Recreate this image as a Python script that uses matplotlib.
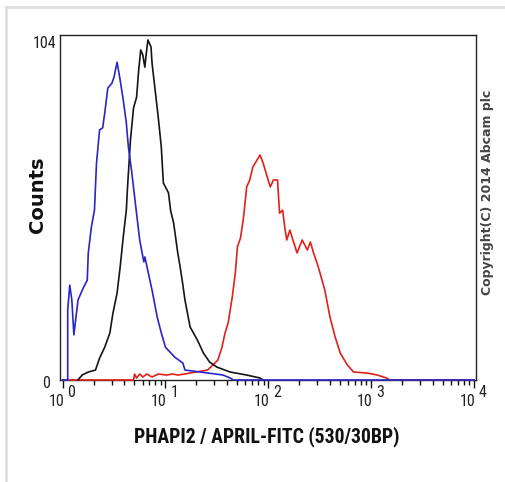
import numpy as np
import matplotlib
matplotlib.use("Agg")
import matplotlib.pyplot as plt
from matplotlib import font_manager
from matplotlib.lines import Line2D

# Histogramas (posicion en decadas log10, cuentas)
blue_log = [0.0, 0.05, 0.05, 0.07, 0.09, 0.11, 0.15, 0.20, 0.24, 0.25, 0.28, 0.31,
            0.33, 0.36, 0.39, 0.41, 0.44, 0.48, 0.50, 0.53, 0.56, 0.59, 0.62, 0.64,
            0.67, 0.71, 0.75, 0.79, 0.80, 0.87, 0.92, 0.96, 1.00, 1.09, 1.17, 1.19,
            1.34, 1.56, 1.63, 1.66, 4.0]
blue_cnt = [0, 0, 21.1, 28.6, 24.1, 13.6, 24.1, 27.7, 30.1, 38.3, 46.1, 51.2,
            65.4, 75.4, 76.0, 80.5, 88.0, 89.5, 91.3, 95.8, 90.4, 84.4, 77.5, 70.2,
            63.3, 52.7, 42.2, 35.6, 37.1, 27.1, 19.0, 14.2, 9.9, 6.9, 5.1, 3.0,
            2.4, 1.5, 0.6, 0, 0]

black_log = [0.15, 0.19, 0.25, 0.32, 0.36, 0.41, 0.46, 0.49, 0.53, 0.56, 0.59, 0.62,
             0.63, 0.66, 0.69, 0.72, 0.74, 0.76, 0.78, 0.80, 0.81, 0.83, 0.86, 0.87,
             0.90, 0.93, 0.96, 0.98, 1.03, 1.05, 1.08, 1.12, 1.14, 1.17, 1.19, 1.24,
             1.31, 1.37, 1.43, 1.50, 1.63, 1.79, 1.92, 1.95]
black_cnt = [0, 1.5, 2.4, 3.0, 6.6, 9.9, 14.2, 20.2, 26.2, 34.1, 43.1, 51.2,
             57.3, 72.3, 82.0, 85.3, 93.4, 99.5, 98.0, 94.3, 97.4, 102.5, 100.4, 95.5,
             87.4, 79.3, 70.2, 59.4, 56.4, 51.2, 47.3, 38.3, 34.7, 28.6, 24.1, 16.0,
             12.1, 8.1, 5.4, 3.9, 2.4, 1.5, 0.6, 0]

red_log = [0.0, 0.69, 0.70, 0.72, 0.75, 0.78, 0.82, 0.87, 0.93, 1.01, 1.07, 1.12,
           1.19, 1.24, 1.41, 1.46, 1.51, 1.55, 1.58, 1.61, 1.65, 1.68, 1.70, 1.73,
           1.76, 1.79, 1.82, 1.85, 1.89, 1.92, 1.95, 1.99, 2.02, 2.05, 2.09, 2.11,
           2.14, 2.16, 2.18, 2.21, 2.24, 2.28, 2.33, 2.38, 2.41, 2.44, 2.48, 2.50,
           2.55, 2.60, 2.65, 2.70, 2.77, 2.83, 2.96, 3.06, 3.15, 3.18, 4.0]
red_cnt = [0, 0, 1.8, 0.6, 1.8, 0.9, 1.8, 0.9, 1.8, 1.5, 1.8, 1.5,
           1.8, 2.1, 3.0, 4.5, 6.0, 9.9, 14.2, 17.2, 25.0, 32.3, 40.1, 42.8,
           49.1, 58.2, 60.3, 64.2, 66.3, 67.8, 65.4, 61.2, 58.2, 60.3, 60.3, 50.3,
           51.2, 46.1, 42.2, 45.2, 42.2, 38.3, 42.2, 39.2, 41.6, 38.3, 34.7, 32.6,
           27.1, 19.0, 13.0, 8.1, 4.5, 2.4, 2.1, 1.5, 0.6, 0, 0]

decades = [0, 1, 2, 3, 4]
y_max = 104

# buscar una fuente estrecha si hay alguna
narrow = {"family": "Liberation Sans"}
for f in font_manager.fontManager.ttflist:
    if f.name in ("Liberation Sans Narrow", "Roboto Condensed", "Open Sans Condensed"):
        narrow = {"family": f.name}
        break
    if f.name in ("DejaVu Sans", "Noto Sans", "Roboto", "Open Sans") and str(f.stretch) in ("condensed", "semi-condensed", "500", "600", "700"):
        narrow = {"family": f.name, "stretch": f.stretch}


def fit_width(t, target, renderer):
    w = t.get_window_extent(renderer).width
    t.set_fontsize(t.get_fontsize() * target / w)


fig = plt.figure(figsize=(5.06, 4.82), dpi=100)
ax = fig.add_axes([60 / 506, 1 - 380 / 482, 416 / 506, 345 / 482])

ax.plot(10 ** np.array(red_log), red_cnt, color="#e0201c", lw=1.2, zorder=3, clip_on=False)
ax.plot(10 ** np.array(black_log), black_cnt, color="#151515", lw=1.2, zorder=4, clip_on=False)
ax.plot(10 ** np.array(blue_log), blue_cnt, color="#2626cc", lw=1.2, zorder=5, clip_on=False)

ax.set_xscale("log")
ax.set_xlim(10 ** -0.025, 10 ** 4.02)
ax.set_ylim(0, y_max)
ax.set_yticks([])
ax.xaxis.set_major_formatter(plt.NullFormatter())
ax.xaxis.set_minor_formatter(plt.NullFormatter())
ax.tick_params(axis="x", which="major", length=6, width=1.0, direction="out", color="#111")
ax.tick_params(axis="x", which="minor", length=3.6, width=1.0, direction="out", color="#111")
for s in ax.spines.values():
    s.set_color("#222")
    s.set_linewidth(1.0)

renderer = fig.canvas.get_renderer()

# etiquetas de decadas tipo 10 ^ n
for d in decades:
    ax.annotate("10", xy=(10 ** d, 0), xycoords=("data", "axes fraction"),
                xytext=(1.5, -21.5), textcoords="offset pixels", ha="right", va="center",
                fontsize=11.5, color="#222", **narrow)
    ax.annotate(str(d), xy=(10 ** d, 0), xycoords=("data", "axes fraction"),
                xytext=(5, -12.5), textcoords="offset pixels", ha="left", va="center",
                fontsize=11.5, color="#222", **narrow)

ax.annotate(str(y_max), xy=(0, 1), xycoords="axes fraction", xytext=(-4, -9),
            textcoords="offset pixels", ha="right", va="center", fontsize=11.5,
            color="#222", **narrow)
ax.annotate("0", xy=(0, 0), xycoords="axes fraction", xytext=(-10, -3.5),
            textcoords="offset pixels", ha="right", va="center", fontsize=11.5,
            color="#222", **narrow)

fig.text(38 / 506, 1 - 195 / 482, "Counts", rotation=90, ha="center", va="center",
         fontsize=14, fontweight="bold", family="DejaVu Sans", color="#111")
xl = fig.text(266.5 / 506, 1 - 437 / 482, "PHAPI2 / APRIL-FITC (530/30BP)", ha="center",
              va="center", fontsize=15, fontweight="bold", color="#111", **narrow)
fit_width(xl, 268, renderer)
fig.text(488 / 506, 1 - 192 / 482, "Copyright(C) 2014 Abcam plc", rotation=90,
         ha="center", va="center", fontsize=9, fontweight="bold", family="DejaVu Sans",
         color="#444")

# marco gris del recuadro
fig.add_artist(Line2D([6 / 506, 1], [1 - 7 / 482] * 2, color="#dcdcdc", lw=1.8))
fig.add_artist(Line2D([6 / 506] * 2, [0, 1 - 7 / 482], color="#dcdcdc", lw=1.8))

fig.savefig("out.png", dpi=100)
